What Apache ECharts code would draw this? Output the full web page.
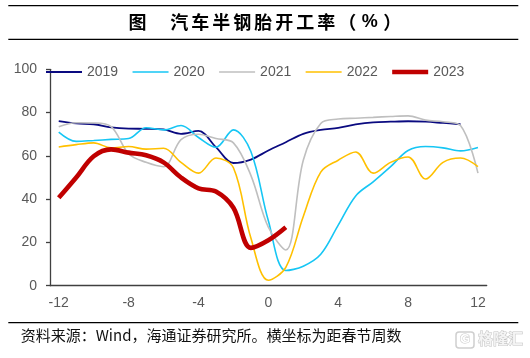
<!DOCTYPE html>
<html>
<head>
<meta charset="utf-8">
<script src="https://cdn.jsdelivr.net/npm/echarts@6/dist/echarts.min.js"></script>
<style>html,body{margin:0;padding:0;background:#fff}#c{width:530px;height:358px}</style>
</head>
<body>
<div id="c"></div>
<script>
const weeks = [-12,-11,-10,-9,-8,-7,-6,-5,-4,-3,-2,-1,0,1,2,3,4,5,6,7,8,9,10,11,12];
const y2019 = [76.1,75.0,74.6,73.2,72.6,72.5,72.2,70.2,71.5,64,56.7,58.3,62.5,66.3,70.2,72.0,72.9,74.5,75.5,75.8,76.0,75.8,75.2,74.6,null];
const y2020 = [71,66.7,67.1,67.6,68,73,72,74,68.5,64,72,62,30,7,9,14.5,28,41.5,48,55,62.5,64.3,63.7,62.3,63.9];
const y2021 = [73.4,75.3,75.2,73.5,61,57,55,67.5,70,68,66,51,27,16.5,58,75,77,77.4,77.8,78.2,78.5,76.5,75.8,74,52];
const y2022 = [64.1,65.2,66,63.7,64.3,63.1,63.5,57,52,59,54.5,22,2.5,8.5,32,52.5,58,61.8,52,57,59.5,49.3,57,59,55];
const y2023 = [40.6,50,59.8,63,61.5,60.3,57,50,45,43.5,36,17.5,21,27];
const seriesNames = ['2019','2020','2021','2022','2023'];
const seriesData = [y2019,y2020,y2021,y2022,y2023];
const colors = ['#0a0a80','#16c6f4','#bfbfbf','#ffc000','#c00000'];
const widths = [1.8,1.6,1.6,1.6,4.6];
const yTicks = [0,20,40,60,80,100];

const num = 'Liberation Sans, Arial, sans-serif';
const cjk = '"Noto Sans CJK SC", sans-serif';

const titleMain = '汽车半钢胎开工率';
let titleText = '{c|图}{sp| }';
for (const ch of titleMain) titleText += '{c|' + ch + '}';
titleText += '{lp|（}{pc|%}{rp|）}';
const base = {fontSize:18, fontWeight:'bold', color:'#000', fontFamily:cjk, lineHeight:20, align:'center'};

const legendIcon = w => 'path://M0 0H36V' + w + 'H0Z';

const chart = echarts.init(document.getElementById('c'), null, {renderer:'canvas'});
chart.setOption({
  animation:false,
  backgroundColor:'#fff',
  title:{
    left:127, top:12, padding:0,
    text:titleText,
    textStyle:{rich:{
      c:Object.assign({}, base, {width:21}),
      sp:Object.assign({}, base, {width:20.7}),
      lp:Object.assign({}, base, {width:21}),
      pc:Object.assign({}, base, {width:24, fontFamily:num}),
      rp:Object.assign({}, base, {width:21})
    }}
  },
  legend:{
    left:46, top:65, padding:0,
    itemWidth:36, itemHeight:14, itemGap:14.4,
    symbolKeepAspect:true,
    textStyle:{fontSize:14, color:'#595959', fontFamily:num},
    data:seriesNames.map((n,i)=>({name:n, icon:legendIcon(widths[i]), itemStyle:{color:colors[i]}}))
  },
  grid:{left:50, right:43.3, top:69.3, bottom:72.3},
  xAxis:{
    type:'category', data:weeks.map(String), boundaryGap:true,
    axisLine:{lineStyle:{color:'#404040', width:1.3}},
    axisTick:{interval:3, length:5, lineStyle:{color:'#404040', width:1.3}},
    axisLabel:{interval:3, color:'#595959', fontSize:14, margin:10, fontFamily:num},
    splitLine:{show:false}
  },
  yAxis:{
    type:'value', min:yTicks[0], max:yTicks[yTicks.length-1], interval:yTicks[1]-yTicks[0],
    axisLine:{show:true, lineStyle:{color:'#404040', width:1.3}},
    axisTick:{show:true, length:4, lineStyle:{color:'#404040', width:1.3}},
    axisLabel:{color:'#595959', fontSize:14, margin:13, fontFamily:num},
    splitLine:{show:false}
  },
  series:seriesNames.map((n,i)=>({
    name:n, type:'line', data:seriesData[i], symbol:'none', smooth:0.35,
    lineStyle:{color:colors[i], width:widths[i]},
    itemStyle:{color:colors[i]},
    z:2+i
  })),
  graphic:[
    {type:'line', shape:{x1:8.3,y1:5.7,x2:518.3,y2:5.7}, style:{stroke:'#000', lineWidth:1.3}},
    {type:'line', shape:{x1:8.3,y1:39.3,x2:518.3,y2:39.3}, style:{stroke:'#000', lineWidth:1.3}},
    {type:'line', shape:{x1:8.3,y1:322.7,x2:518.3,y2:322.7}, style:{stroke:'#000', lineWidth:1.3}},
    {type:'text', left:20.7, top:328, style:{text:'资料来源：Wind，海通证券研究所。横坐标为距春节周数', font:'15px "Noto Sans CJK SC", sans-serif', fill:'#111'}},
    {type:'rect', shape:{x:456,y:332,width:18,height:16,r:3}, style:{fill:'#fff', stroke:'#cfcfcf', lineWidth:1.5}},
    {type:'text', x:460, y:332.5, style:{text:'G', font:'bold 13px Liberation Sans', fill:'#fff', stroke:'#c8c8c8', lineWidth:1}},
    {type:'text', x:478, y:331, style:{text:'格隆汇', font:'bold 15px "Noto Sans CJK SC"', fill:'#f4f4f4', stroke:'#c4c4c4', lineWidth:1}}
  ]
});
</script>
</body>
</html>
